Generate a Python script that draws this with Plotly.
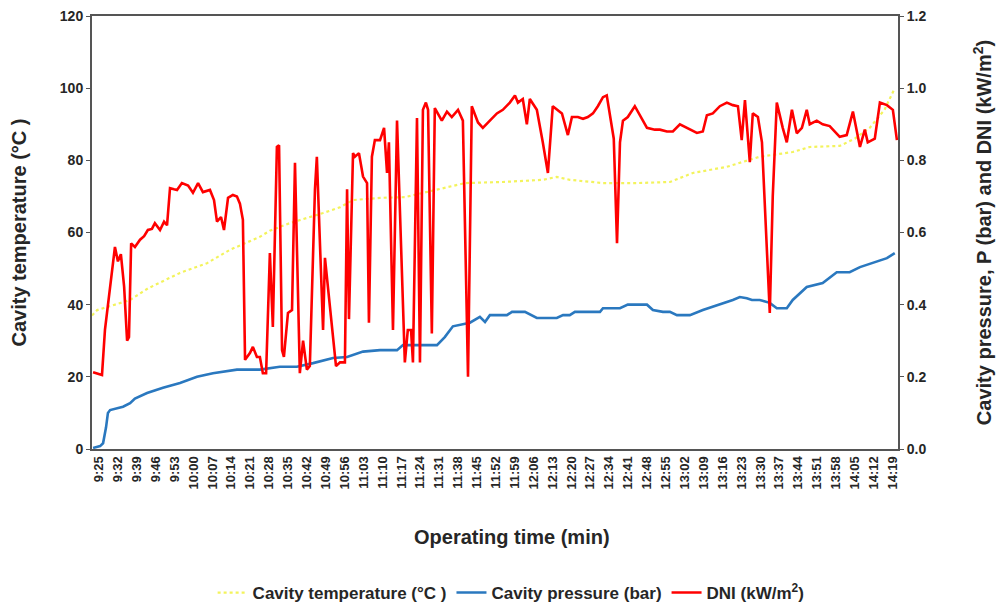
import plotly.graph_objects as go

# Operating time axis: minutes after 9:25, labelled every 7 minutes
tick_minutes = list(range(0, 295, 7))
tick_labels = [
    "9:25", "9:32", "9:39", "9:46", "9:53", "10:00", "10:07", "10:14", "10:21",
    "10:28", "10:35", "10:42", "10:49", "10:56", "11:03", "11:10", "11:17",
    "11:24", "11:31", "11:38", "11:45", "11:52", "11:59", "12:06", "12:13",
    "12:20", "12:27", "12:34", "12:41", "12:48", "12:55", "13:02", "13:09",
    "13:16", "13:23", "13:30", "13:37", "13:44", "13:51", "13:58", "14:05",
    "14:12", "14:19",
]

# Direct normal irradiance, kW/m2
dni_t = [
    -2.2, -1.1, 1.1, 2.2, 4.1, 5.9, 7.0, 8.1, 9.3, 10.4, 11.1, 11.9, 13.3, 15.2,
    16.7, 18.1, 19.6, 20.7, 22.6, 24.1, 25.2, 26.3, 27.8, 28.9, 30.7, 33.0, 34.8,
    36.7, 38.5, 41.1, 42.6, 43.7, 45.2, 46.3, 47.8, 49.6, 51.1, 52.2, 53.3, 54.1,
    55.9, 57.0, 58.5, 59.6, 60.7, 61.9, 63.3, 64.4, 65.9, 66.7, 67.8, 68.5, 70.0,
    71.5, 72.6, 73.3, 74.4, 75.6, 77.0, 78.1, 80.0, 80.7, 81.9, 83.0, 83.7, 85.6,
    87.8, 89.3, 91.1, 91.9, 92.6, 94.1, 94.8, 96.3, 97.8, 99.3, 100.0, 101.1,
    102.2, 104.1, 105.6, 106.7, 107.4, 108.9, 110.4, 113.3, 114.4, 115.6, 116.3,
    117.8, 118.9, 120.0, 121.1, 121.9, 123.3, 124.4, 127.0, 128.9, 130.7, 133.0,
    134.8, 136.7, 138.1, 140.4, 142.2, 144.8, 147.4, 149.6, 152.2, 154.1, 155.2,
    157.0, 158.5, 159.6, 162.2, 164.4, 166.3, 168.1, 170.0, 171.5, 173.7, 175.2,
    177.4, 179.3, 181.1, 183.0, 184.8, 186.7, 188.1, 190.0, 190.7, 191.9, 193.0,
    194.1, 195.9, 198.5, 200.4, 203.0, 205.9, 207.8, 210.4, 212.6, 215.2, 217.8,
    221.5, 223.7, 225.2, 227.4, 230.0, 232.6, 234.8, 236.7, 238.1, 239.3, 241.1,
    242.2, 244.1, 245.6, 247.4, 248.5, 249.6, 251.1, 253.3, 254.8, 256.7, 258.5,
    260.4, 262.2, 263.3, 265.9, 268.1, 270.7, 274.4, 277.0, 279.3, 281.9, 283.7,
    284.8, 287.4, 289.3, 291.9, 294.1, 295.6,
]
dni = [
    0.213, 0.21, 0.205, 0.33, 0.45, 0.56, 0.52, 0.54, 0.45, 0.30, 0.31, 0.57, 0.56,
    0.58, 0.59, 0.607, 0.61, 0.626, 0.607, 0.63, 0.62, 0.723, 0.72, 0.718, 0.737,
    0.73, 0.71, 0.737, 0.712, 0.718, 0.69, 0.63, 0.643, 0.607, 0.696, 0.704, 0.70,
    0.68, 0.635, 0.247, 0.266, 0.283, 0.255, 0.255, 0.21, 0.21, 0.543, 0.338,
    0.837, 0.842, 0.274, 0.255, 0.377, 0.385, 0.793, 0.53, 0.21, 0.30, 0.22, 0.23,
    0.72, 0.81, 0.55, 0.33, 0.53, 0.39, 0.23, 0.24, 0.24, 0.72, 0.36, 0.82, 0.81,
    0.82, 0.755, 0.737, 0.35, 0.81, 0.856, 0.856, 0.89, 0.765, 0.85, 0.33, 0.91,
    0.24, 0.33, 0.33, 0.24, 0.917, 0.24, 0.94, 0.96, 0.94, 0.32, 0.945, 0.91,
    0.935, 0.92, 0.94, 0.91, 0.20, 0.95, 0.905, 0.89, 0.91, 0.93, 0.94, 0.96,
    0.98, 0.96, 0.97, 0.90, 0.97, 0.94, 0.85, 0.765, 0.95, 0.94, 0.93, 0.87, 0.92,
    0.92, 0.915, 0.92, 0.93, 0.95, 0.975, 0.98, 0.89, 0.86, 0.57, 0.85, 0.91,
    0.92, 0.95, 0.925, 0.89, 0.885, 0.885, 0.88, 0.88, 0.90, 0.89, 0.876, 0.88,
    0.925, 0.93, 0.95, 0.96, 0.953, 0.95, 0.856, 0.967, 0.795, 0.93, 0.92, 0.85,
    0.55, 0.377, 0.70, 0.96, 0.89, 0.85, 0.94, 0.875, 0.89, 0.94, 0.90, 0.91,
    0.90, 0.895, 0.865, 0.87, 0.935, 0.837, 0.885, 0.85, 0.86, 0.96, 0.953, 0.94,
    0.856,
]

# Cavity pressure, bar
pres_t = [
    -2.2, 0.4, 1.5, 2.6, 3.3, 4.1, 8.9, 11.5, 13.3, 17.8, 23.7, 30.0, 36.3, 42.2,
    51.1, 59.6, 67.0, 73.3, 79.3, 86.7, 91.9, 94.1, 97.8, 104.1, 110.4, 112.6,
    125.2, 128.1, 131.1, 137.4, 141.1, 143.0, 144.8, 151.1, 153.0, 157.8, 162.2,
    169.6, 171.9, 174.4, 176.3, 185.6, 186.7, 193.0, 195.9, 203.0, 205.2, 208.9,
    211.5, 214.1, 218.9, 223.7, 230.0, 234.8, 237.4, 240.0, 241.9, 244.8, 248.5,
    251.1, 254.8, 257.0, 262.2, 268.1, 273.3, 278.1, 281.9, 286.7, 291.9, 294.8,
]
pressure = [
    0.003, 0.008, 0.016, 0.06, 0.10, 0.108, 0.117, 0.127, 0.14, 0.155, 0.17, 0.183,
    0.20, 0.21, 0.22, 0.22, 0.228, 0.228, 0.238, 0.252, 0.255, 0.26, 0.27, 0.274,
    0.274, 0.288, 0.288, 0.31, 0.34, 0.35, 0.366, 0.352, 0.371, 0.371, 0.38, 0.38,
    0.363, 0.363, 0.371, 0.371, 0.38, 0.38, 0.39, 0.39, 0.40, 0.40, 0.385, 0.38,
    0.38, 0.371, 0.371, 0.385, 0.40, 0.413, 0.421, 0.418, 0.413, 0.413, 0.405,
    0.39, 0.39, 0.413, 0.449, 0.46, 0.49, 0.49, 0.504, 0.515, 0.529, 0.543,
]

# Cavity temperature, degC
temp_t = [
    -2.6, -0.7, 11.5, 18.1, 30.0, 40.0, 48.5, 59.6, 63.3, 70.7, 83.0, 89.3, 94.1,
    104.1, 113.3, 125.2, 135.6, 149.6, 164.4, 169.6, 174.4, 186.7, 199.3, 211.5,
    220.0, 232.6, 244.8, 257.0, 263.3, 274.4, 280.0, 285.5, 291.0, 294.8,
]
temperature = [
    37, 38.5, 41.3, 44.5, 48.8, 51.5, 55.2, 58.8, 60.5, 62.6, 65.4, 67, 69, 69.6,
    69.8, 71.8, 73.7, 74, 74.6, 75.4, 74.6, 73.7, 73.7, 74, 76.5, 78.2, 81, 82.3,
    83.7, 84, 86, 89, 94, 100,
]

FONT = "Liberation Sans, Arial, sans-serif"
INK = "#262626"
AXIS = "#555555"

fig = go.Figure()
fig.add_trace(go.Scatter(
    x=temp_t, y=temperature, name="Cavity temperature (°C )", mode="lines",
    line=dict(color="#f3f35c", width=2.2, dash="dot"), yaxis="y",
))
fig.add_trace(go.Scatter(
    x=pres_t, y=pressure, name="Cavity pressure (bar)", mode="lines",
    line=dict(color="#2a78bf", width=2.6), yaxis="y2",
))
fig.add_trace(go.Scatter(
    x=dni_t, y=dni, name="DNI (kW/m<sup>2</sup>)", mode="lines",
    line=dict(color="#ff0000", width=2.6), yaxis="y2",
))

# x-axis title, centred on the whole chart area
fig.add_annotation(
    text="Operating time (min)", xref="paper", yref="paper",
    x=0.521, y=-0.203, xanchor="center", yanchor="middle", showarrow=False,
    font=dict(family=FONT, size=20, color=INK, weight="bold"),
)

fig.update_layout(
    width=1002, height=608,
    margin=dict(l=92, r=104, t=16, b=159, autoexpand=False),
    paper_bgcolor="white", plot_bgcolor="white",
    font=dict(family=FONT, color=INK, size=12),
    showlegend=True,
    legend=dict(
        orientation="h", x=0.52, xanchor="center",
        yref="container", y=1 - 593 / 608, yanchor="middle",
        font=dict(family=FONT, size=17, color=INK, weight="bold"),
        itemwidth=30, tracegroupgap=0, bgcolor="rgba(0,0,0,0)",
    ),
    xaxis=dict(
        range=[-2.6, 296], tickmode="array", tickvals=tick_minutes,
        ticktext=tick_labels, tickangle=-90, automargin=False,
        tickfont=dict(family=FONT, size=13, color=INK, weight="bold"),
        showgrid=False, zeroline=False,
        showline=True, linecolor=AXIS, linewidth=2, mirror=True,
        ticks="",
    ),
    yaxis=dict(
        range=[0, 120], tickmode="linear", tick0=0, dtick=20, automargin=False,
        tickfont=dict(family=FONT, size=14, color=INK, weight="bold"),
        showgrid=False, zeroline=False,
        showline=True, linecolor=AXIS, linewidth=2,
        ticks="outside", ticklen=4, tickcolor=AXIS,
        title=dict(text="Cavity temperature (°C )", standoff=28,
                   font=dict(family=FONT, size=20, color=INK, weight="bold")),
    ),
    yaxis2=dict(
        range=[0, 1.2], tickmode="linear", tick0=0, dtick=0.2, tickformat=".1f",
        overlaying="y", side="right", automargin=False,
        tickfont=dict(family=FONT, size=14, color=INK, weight="bold"),
        showgrid=False, zeroline=False,
        showline=True, linecolor=AXIS, linewidth=2,
        ticks="outside", ticklen=4, tickcolor=AXIS,
        title=dict(text="Cavity pressure, P (bar) and DNI (kW/m<sup>2</sup>)", standoff=52,
                   font=dict(family=FONT, size=20, color=INK, weight="bold")),
    ),
)

fig.write_html("out.html")
